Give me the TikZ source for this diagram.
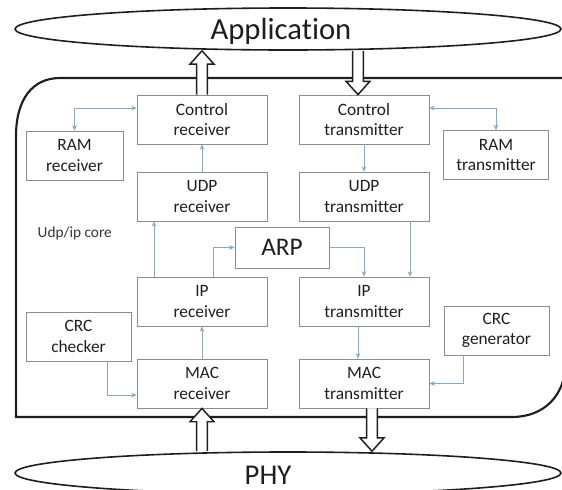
\documentclass[tikz,border=0pt]{standalone}
\usepackage{fontspec}
\setmainfont{Carlito}[Ligatures=NoCommon]
\usetikzlibrary{shapes.geometric,arrows.meta,calc}

\definecolor{boxgray}{RGB}{140,140,140}
\definecolor{linkblue}{RGB}{138,166,192}
\definecolor{inkblack}{RGB}{30,30,30}

\tikzset{
	block/.style={draw=boxgray, line width=0.6pt, minimum width=97.5pt, minimum height=36.75pt, inner sep=0pt, align=center, text=inkblack, font=\fontsize{13}{15.5}\selectfont},
	sidebox/.style={block, minimum width=78.75pt},
	link/.style={draw=linkblue, line width=0.6pt, >={Stealth[length=4pt,width=3.5pt]}, ->},
	bigarrow/.style={draw=inkblack, line width=1.1pt, fill=white, line join=miter},
	layer/.style={ellipse, draw=inkblack, line width=1.2pt, fill=white, minimum width=409.5pt, minimum height=31.5pt, inner sep=0pt},
}

% hollow block arrow: #1 = - (points up) or + (points down), #2 = tip, #3 = tail
\newcommand{\hollowarrow}[3]{%
	\draw[bigarrow] let \p1=#2, \p2=#3 in
		(\x1-4pt,\y2) -- (\x1-4pt,\y1#1 10pt) -- (\x1-9pt,\y1#1 10pt) -- (\p1)
		-- (\x1+9pt,\y1#1 10pt) -- (\x1+4pt,\y1#1 10pt) -- (\x1+4pt,\y2);
}

\begin{document}
\begin{tikzpicture}[x=0.75pt,y=-0.75pt]
	\useasboundingbox (0,0) rectangle (562,490);
	\clip (0,0) rectangle (562,490);
	
	%Shape: core outline
	\draw[draw=inkblack, line width=1.6pt] (566,78) -- (60,78) .. controls (32,78) and (16,100) .. (16,136) -- (16,417) -- (512,417) .. controls (542,417) and (565,398) .. (566,362) -- cycle ;
	
	%Shape: Ellipse
	\node[layer] (app) at (288,29) {};
	\node[layer] (phy) at (288,473) {};
	
	% Text Node
	\node[text=inkblack, font=\fontsize{23}{23}\selectfont] (apptext) at (281,31) {Application};
	\node[text=inkblack, font=\fontsize{21.5}{21.5}\selectfont] (phytext) at (268,475) {PHY};
	\node[anchor=west, text=inkblack!90, font=\fontsize{11.5}{12}\selectfont] (corename) at (33,233) {Udp/ip core};
	
	% receive side
	\node[block] (ctrlrx) at (202,119.5) {Control\\receiver};
	\node[block] (udprx) at (202,196.5) {UDP\\receiver};
	\node[block] (iprx) at (202,301.5) {IP\\receiver};
	\node[block] (macrx) at (202,383.5) {MAC\\receiver};
	\node[sidebox, minimum width=72.75pt] (ramrx) at (74.5,155.5) {RAM\\receiver};
	\node[sidebox] (crcchk) at (78.5,336.5) {CRC\\checker};
	
	% transmit side
	\node[block] (ctrltx) at (364,119.5) {Control\\transmitter};
	\node[block] (udptx) at (364,196.5) {UDP\\transmitter};
	\node[block] (iptx) at (364,301.5) {IP\\transmitter};
	\node[block] (mactx) at (364,383.5) {MAC\\transmitter};
	\node[sidebox] (ramtx) at (496,155) {RAM\\transmitter};
	\node[sidebox] (crcgen) at (496.5,330.5) {CRC\\generator};
	
	\node[block, minimum width=70.5pt, minimum height=30.75pt, font=\fontsize{19}{19}\selectfont] (arp) at (282,247.5) {ARP};
	
	%Straight Lines
	\draw[link, <->] (ramrx.north) |- (ctrlrx.170);
	\draw[link, <->] (ramtx.north) |- (ctrltx.10);
	\draw[link] (udprx.north) -- (ctrlrx.south);
	\draw[link] (ctrltx.south) -- (udptx.north);
	\draw[link] ([xshift=-36pt]iprx.north) -- ([xshift=-36pt]udprx.south);
	\draw[link] ([xshift=8.25pt]iprx.north) |- (arp.west);
	\draw[link] (arp.east) -| (iptx.north);
	\draw[link] ([xshift=34.5pt]udptx.south) -- ([xshift=34.5pt]iptx.north);
	\draw[link] (macrx.north) -- (iprx.south);
	\draw[link] ([xshift=-4.5pt]iptx.south) -- ([xshift=-4.5pt]mactx.north);
	\draw[link] ([xshift=22pt]crcchk.south) |- (macrx.190);
	\draw[link] ([xshift=-25pt]crcgen.south) |- (mactx.east);
	
	%Block arrows
	\hollowarrow{-}{(ctrlrx.north |- app.south)}{(ctrlrx.north)}
	\hollowarrow{+}{([xshift=-4.5pt]ctrltx.north)}{(app.south)}
	\hollowarrow{-}{(macrx.south)}{(phy.north)}
	\hollowarrow{+}{([xshift=6pt]mactx.south |- phy.north)}{(mactx.south)}
\end{tikzpicture}
\end{document}
